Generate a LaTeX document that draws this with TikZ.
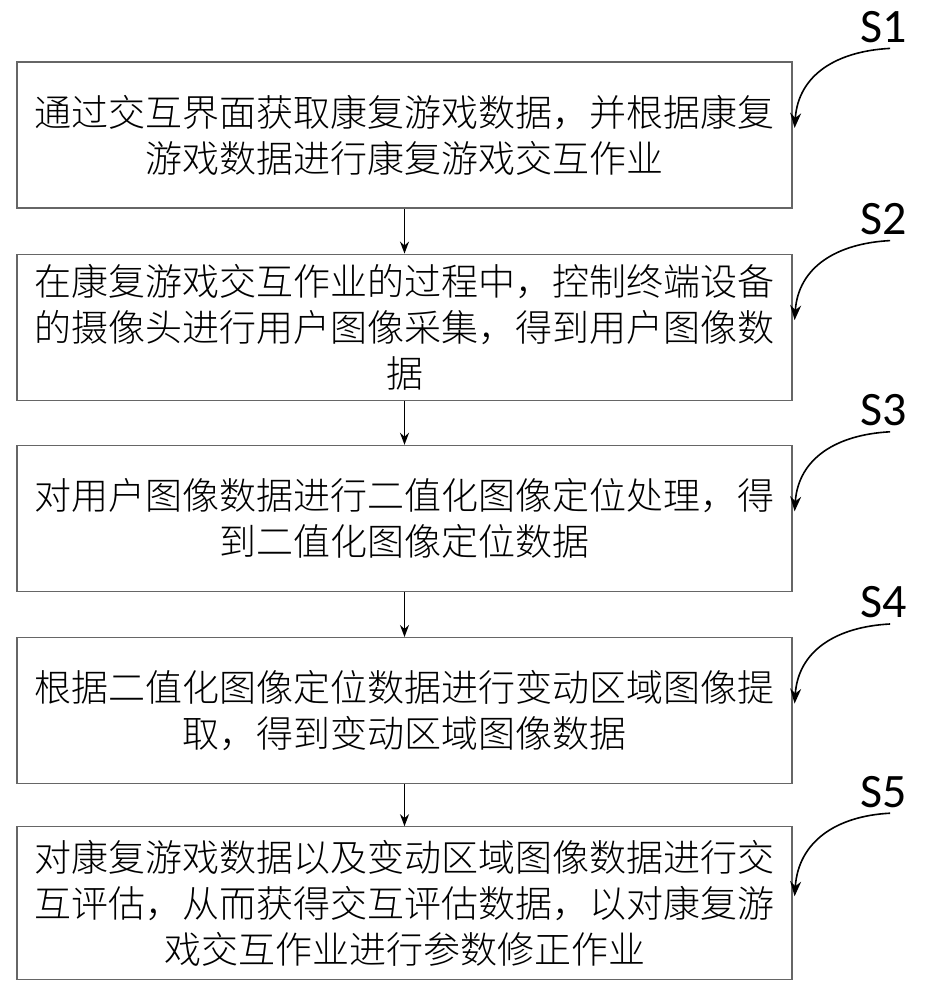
\documentclass[tikz,border=0pt]{standalone}
\usepackage{fontspec}
\newfontfamily\cjkfont{Noto Sans CJK SC}[UprightFont=* Light]
\newfontfamily\stepfont{Carlito}
\usetikzlibrary{positioning,arrows.meta,calc}
\tikzset{
stepbox/.style={draw=black!60,line width=1.2pt,minimum width=775pt,minimum height=146pt,
  align=center,inner sep=0pt,font=\cjkfont\fontsize{37}{46}\selectfont},
steplabel/.style={font=\stepfont\fontsize{48}{48}\selectfont,inner sep=0pt,anchor=base},
flow/.style={->,line width=1.5pt,>={Stealth[length=12pt,width=9pt]}},
callout/.style={->,line width=1.6pt,>={Stealth[length=15pt,width=11pt]}}
}

\begin{document}
\begin{tikzpicture}[x=1pt,y=1pt]
\useasboundingbox (0,0) rectangle (927,1000);
\node[stepbox] (s1) at (404.5,865)
{通过交互界面获取康复游戏数据，并根据康复\\游戏数据进行康复游戏交互作业};
\node[stepbox,below=45pt of s1] (s2)
{在康复游戏交互作业的过程中，控制终端设备\\的摄像头进行用户图像采集，得到用户图像数\\据};
\node[stepbox,below=44pt of s2] (s3)
{对用户图像数据进行二值化图像定位处理，得\\到二值化图像定位数据};
\node[stepbox,below=45pt of s3] (s4)
{根据二值化图像定位数据进行变动区域图像提\\取，得到变动区域图像数据};
\node[stepbox,below=42pt of s4,minimum height=153pt] (s5)
{对康复游戏数据以及变动区域图像数据进行交\\互评估，从而获得交互评估数据，以对康复游\\戏交互作业进行参数修正作业};
\draw[flow] (s1) -- (s2);
\draw[flow] (s2) -- (s3);
\draw[flow] (s3) -- (s4);
\draw[flow] (s4) -- (s5);
% step labels
\foreach \i in {1,...,5} {
  \node[steplabel] (l\i) at ($(s\i.north east)+(91.5,19)$) {S\i};
  \draw[callout] ($(l\i.base)+(6,-6)$) to[out=183,in=86,looseness=1.1] ($(s\i.east)+(2,7)$);
}
\end{tikzpicture}
\end{document}
